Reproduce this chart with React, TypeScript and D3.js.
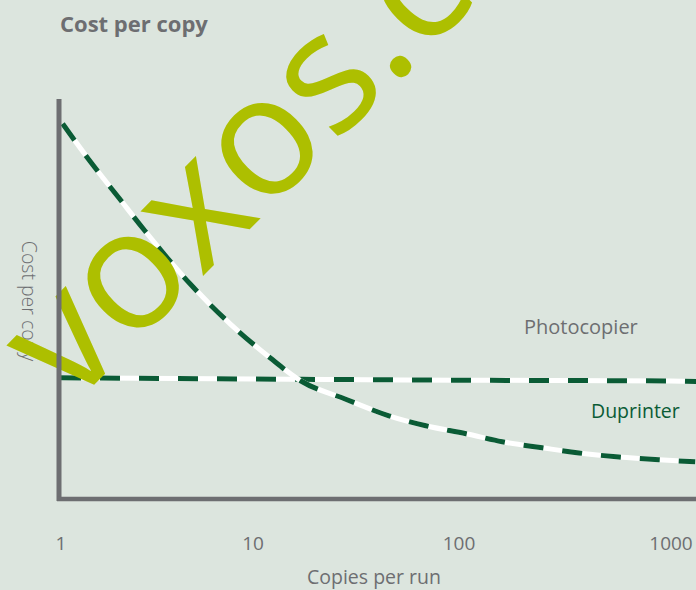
import { useRef, useEffect } from "react";
import * as d3 from "d3";

const W = 696;
const H = 590;

// x: copies per run (log), y: cost per copy (arbitrary units)
const tickValues = [1, 10, 100, 1000];
const tickLabels = ["1", "10", "100", "1000"];

const photocopierRuns = [1, 10, 100, 1000, 1400];
const photocopierCost = [3.03, 3.0, 2.97, 2.95, 2.93];

const duprinterRuns = [1.02, 1.45, 2.0, 2.74, 4.7, 7.6, 12.1, 17.1, 28, 45.7, 69, 108, 160, 247, 368, 569, 877, 1300];
const duprinterCost = [9.38, 8.38, 7.53, 6.7, 5.38, 4.38, 3.53, 2.95, 2.5, 2.08, 1.83, 1.63, 1.43, 1.28, 1.15, 1.05, 0.98, 0.93];

const BG = "#dce5de";
const GREY = "#6d6e71";
const GREEN = "#0a5b35";
const LIME = "#adbf00";
const FONT = "'Open Sans', sans-serif";

export default function App() {
  const svgRef = useRef<SVGSVGElement>(null);

  useEffect(() => {
    if (!svgRef.current) return;
    const svg = d3.select(svgRef.current);
    svg.selectAll("*").remove();

    const x = d3.scaleLog().domain(tickValues).range([61, 253, 459, 671]);
    const y = d3.scaleLinear().domain([0, 10]).range([499, 99]);

    svg.append("rect").attr("width", W).attr("height", H).attr("fill", BG);

    // Title
    svg
      .append("text")
      .attr("x", 60)
      .attr("y", 32)
      .attr("fill", GREY)
      .attr("font-family", FONT)
      .attr("font-weight", "bold")
      .attr("font-size", "22px")
      .text("Cost per copy");

    // Y axis title
    svg
      .append("text")
      .attr("transform", "translate(22,301) rotate(90)")
      .attr("text-anchor", "middle")
      .attr("fill", GREY)
      .attr("font-family", FONT)
      .attr("font-weight", 300)
      .attr("font-size", "19.5px")
      .text("Cost per copy");

    // X tick labels
    svg
      .append("g")
      .selectAll("text")
      .data(tickValues)
      .join("text")
      .attr("x", (d) => x(d))
      .attr("y", 550)
      .attr("text-anchor", "middle")
      .attr("fill", GREY)
      .attr("font-family", FONT)
      .attr("font-size", "19px")
      .text((_, i) => tickLabels[i]);

    // X axis title
    svg
      .append("text")
      .attr("x", 374)
      .attr("y", 584)
      .attr("text-anchor", "middle")
      .attr("fill", GREY)
      .attr("font-family", FONT)
      .attr("font-size", "19.5px")
      .text("Copies per run");

    const line = d3
      .line<[number, number]>()
      .x((d) => x(d[0]))
      .y((d) => y(d[1]))
      .curve(d3.curveMonotoneX);

    const series = [
      d3.zip(photocopierRuns, photocopierCost) as [number, number][],
      d3.zip(duprinterRuns, duprinterCost) as [number, number][],
    ];

    series.forEach((pts) => {
      svg
        .append("path")
        .attr("d", line(pts))
        .attr("fill", "none")
        .attr("stroke", "#ffffff")
        .attr("stroke-width", 5);
      svg
        .append("path")
        .attr("d", line(pts))
        .attr("fill", "none")
        .attr("stroke", GREEN)
        .attr("stroke-width", 5)
        .attr("stroke-dasharray", "20 19");
    });

    // Series labels
    svg
      .append("text")
      .attr("x", 524)
      .attr("y", 334)
      .attr("fill", GREY)
      .attr("font-family", FONT)
      .attr("font-size", "20px")
      .text("Photocopier");

    svg
      .append("text")
      .attr("x", 591)
      .attr("y", 418)
      .attr("fill", GREEN)
      .attr("font-family", FONT)
      .attr("font-size", "19.5px")
      .text("Duprinter");

    // Watermark
    svg
      .append("text")
      .attr("transform", "translate(70,409) rotate(-45)")
      .attr("fill", LIME)
      .attr("font-family", FONT)
      .attr("font-weight", 500)
      .attr("font-size", "168px")
      .text("voxos.com");

    // Axes
    svg
      .append("line")
      .attr("x1", 59)
      .attr("x2", 59)
      .attr("y1", 99)
      .attr("y2", 501)
      .attr("stroke", GREY)
      .attr("stroke-width", 5);
    svg
      .append("line")
      .attr("x1", 57)
      .attr("x2", W)
      .attr("y1", 499)
      .attr("y2", 499)
      .attr("stroke", GREY)
      .attr("stroke-width", 4.5);
  }, []);

  return (
    <div style={{ position: "fixed", left: 0, top: 0, width: W, height: H }}>
      <svg ref={svgRef} width={W} height={H} style={{ display: "block" }} />
    </div>
  );
}
